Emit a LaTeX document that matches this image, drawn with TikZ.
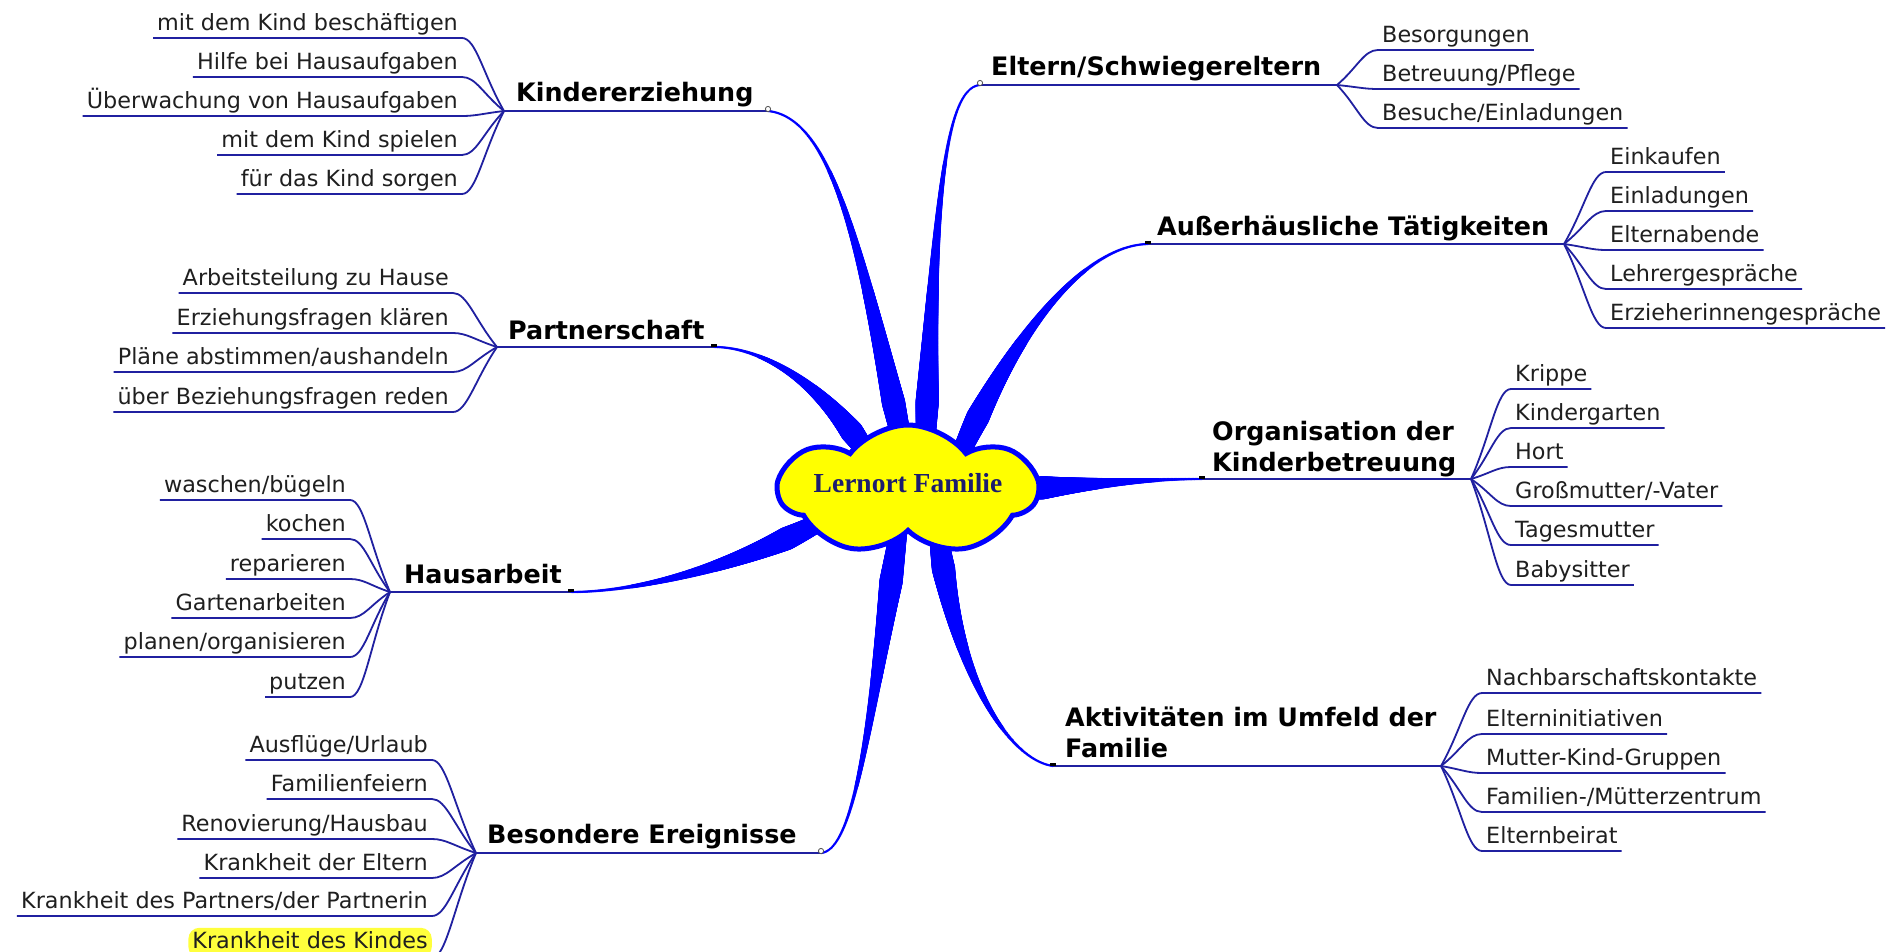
\documentclass[tikz,border=0pt]{standalone}
\usepackage{fontspec}
\setmainfont{DejaVu Sans}
\newfontfamily\serifb{Liberation Serif}
\usetikzlibrary{calc,decorations.markings,shapes.symbols}
\definecolor{lineblue}{RGB}{32,32,160}
\definecolor{spikeblue}{RGB}{0,0,255}
\definecolor{cloudyellow}{RGB}{255,255,0}
\definecolor{centertext}{RGB}{28,28,110}
\definecolor{hilite}{RGB}{255,255,60}
\newcommand\LX{0}
\newcommand\RX{0}
\newcommand\lchild[4]{%
  \node[childtext, anchor=south east] (#1) at (\LX,#2) {#3};
  \draw[thinline] (#1.south west) -- (#1.south east) .. controls ($(#1.south east)+(14,0)$) and ($(#1.south east)!0.5!(#4)$) .. (#4);
}
\newcommand\rchild[4]{%
  \node[childtext, anchor=south west] (#1) at (\RX,#2) {#3};
  \draw[thinline] (#4) .. controls ($(#1.south west)!0.5!(#4)$) and ($(#1.south west)+(-14,0)$) .. (#1.south west) -- (#1.south east);
}
\begin{document}
\begin{tikzpicture}[x=1pt,y=-1pt,
  childtext/.style={font=\fontsize{22.3}{26}\selectfont, inner xsep=4pt, inner ysep=1.5pt, text height=16.5pt, text depth=5.5pt, text=black!88},
  headtext/.style={font=\fontsize{25.4}{31}\selectfont\bfseries, inner sep=0pt, align=left, text=black},
  thinline/.style={draw=lineblue, line width=1.8pt},
  spike/.style={postaction={decorate}, decoration={markings,
    mark=between positions 0 and 1 step 0.7pt with {%
      \pgfmathsetmacro\tp{\pgfkeysvalueof{/pgf/decoration/mark info/distance from start}/\pgfdecoratedpathlength}%
      \pgfmathsetmacro\rr{\tp<0.85 ? 1.2+14.5*\tp*\tp : 11.68-20*(\tp-0.85)}%
      \fill[spikeblue] (0pt,0pt) circle (\rr pt);}}},
  ringmark/.style={draw=black!70, fill=white, line width=0.8pt},
]
\useasboundingbox (0,0) rectangle (1903,952);
\clip (0,0) rectangle (1903,952);
\fill[white] (0,0) rectangle (1903,952);

% ---------- coordinates of heads and hubs
\coordinate (hK) at (504,111);  \coordinate (eK) at (768,111);
\coordinate (hP) at (497,347);  \coordinate (eP) at (714,347);
\coordinate (hH) at (390,592);  \coordinate (eH) at (571,592);
\coordinate (hB) at (476,853);  \coordinate (eB) at (821,853);
\coordinate (hE) at (1337,85);  \coordinate (eE) at (980,85);
\coordinate (hA) at (1564,244); \coordinate (eA) at (1148,244);
\coordinate (hO) at (1471,479); \coordinate (eO) at (1202,479);
\coordinate (hU) at (1441,766); \coordinate (eU) at (1053,766);

\coordinate (bK) at (905,455);
\coordinate (bP) at (868,455);
\coordinate (bH) at (820,522);
\coordinate (bB) at (898,535);
\coordinate (bE) at (925,455);
\coordinate (bA) at (960,455);
\coordinate (bO) at (1015,490);
\coordinate (bU) at (938,530);

% ---------- tapered main connectors
\path[spike] (eK) .. controls (835,118) and (862,260) .. (bK);
\path[spike] (eP) .. controls (760,347) and (820,380) .. (bP);
\path[spike] (eH) .. controls (640,592) and (740,565) .. (bH);
\path[spike] (eB) .. controls (855,850) and (870,720) .. (bB);
\path[spike] (eE) .. controls (945,88) and (935,200) .. (bE);
\path[spike] (eA) .. controls (1090,245) and (1020,320) .. (bA);
\path[spike] (eO) .. controls (1150,479) and (1090,484) .. (bO);
\path[spike] (eU) .. controls (1010,760) and (955,680) .. (bU);

% ---------- central cloud
\node[cloud, cloud puffs=7, cloud puff arc=105, cloud ignores aspect,
      minimum width=258pt, minimum height=130pt, draw=spikeblue,
      line width=5pt, fill=cloudyellow, inner sep=0pt] (cloud) at (908,490) {};
\node[font=\serifb\fontsize{27.5}{33}\selectfont\bfseries, text=centertext, anchor=base] (center) at (908,492) {Lernort Familie};

% ---------- heading lines and labels
\draw[thinline] (hK) -- (eK);
\draw[thinline] (hP) -- (eP);
\draw[thinline] (hH) -- (eH);
\draw[thinline] (hB) -- (eB);
\draw[thinline] (eE) -- (hE);
\draw[thinline] (eA) -- (hA);
\draw[thinline] (eO) -- (hO);
\draw[thinline] (eU) -- (hU);

\node[headtext, anchor=base west] (tK) at (516,102) {Kindererziehung};
\node[headtext, anchor=base west] (tP) at (508,339) {Partnerschaft};
\node[headtext, anchor=base west] (tH) at (404,583) {Hausarbeit};
\node[headtext, anchor=base west] (tB) at (487,843) {Besondere Ereignisse};
\node[headtext, anchor=base west] (tE) at (991,76) {Eltern/Schwiegereltern};
\node[headtext, anchor=base west] (tA) at (1157,235) {Außerhäusliche Tätigkeiten};
\node[headtext, anchor=south west] (tO) at (1212,477) {Organisation der\\Kinderbetreuung};
\node[headtext, anchor=south west] (tU) at (1065,758) {Aktivitäten im Umfeld der\\Familie};

% small end markers
\draw[ringmark] ($(eK)+(0,-2)$) circle (2.6pt);
\draw[ringmark] ($(eE)+(0,-2)$) circle (2.6pt);
\draw[ringmark] ($(eB)+(0,-2)$) circle (2.6pt);
\fill[black] ($(eP)+(-3,-3)$) rectangle ($(eP)+(3,0)$);
\fill[black] ($(eH)+(-3,-3)$) rectangle ($(eH)+(3,0)$);
\fill[black] ($(eA)+(-3,-3)$) rectangle ($(eA)+(3,0)$);
\fill[black] ($(eO)+(-3,-3)$) rectangle ($(eO)+(3,0)$);
\fill[black] ($(eU)+(-3,-3)$) rectangle ($(eU)+(3,0)$);

% ---------- Kindererziehung
\renewcommand\LX{462}
\lchild{k1}{38}{mit dem Kind beschäftigen}{hK}
\lchild{k2}{77}{Hilfe bei Hausaufgaben}{hK}
\lchild{k3}{116}{Überwachung von Hausaufgaben}{hK}
\lchild{k4}{155}{mit dem Kind spielen}{hK}
\lchild{k5}{194}{für das Kind sorgen}{hK}

% ---------- Partnerschaft
\renewcommand\LX{453}
\lchild{p1}{293}{Arbeitsteilung zu Hause}{hP}
\lchild{p2}{333}{Erziehungsfragen klären}{hP}
\lchild{p3}{372}{Pläne abstimmen/aushandeln}{hP}
\lchild{p4}{412}{über Beziehungsfragen reden}{hP}

% ---------- Hausarbeit
\renewcommand\LX{350}
\lchild{h1}{500}{waschen/bügeln}{hH}
\lchild{h2}{539}{kochen}{hH}
\lchild{h3}{579}{reparieren}{hH}
\lchild{h4}{618}{Gartenarbeiten}{hH}
\lchild{h5}{657}{planen/organisieren}{hH}
\lchild{h6}{697}{putzen}{hH}

% ---------- Besondere Ereignisse
\renewcommand\LX{432}
\lchild{b1}{760}{Ausflüge/Urlaub}{hB}
\lchild{b2}{799}{Familienfeiern}{hB}
\lchild{b3}{839}{Renovierung/Hausbau}{hB}
\lchild{b4}{878}{Krankheit der Eltern}{hB}
\lchild{b5}{916}{Krankheit des Partners/der Partnerin}{hB}
\node[childtext, anchor=south east, fill=hilite, rounded corners=11pt, inner ysep=4pt] (b6) at (432,958) {Krankheit des Kindes};
\draw[thinline] (b6.south west) -- (b6.south east) .. controls ($(b6.south east)+(14,0)$) and ($(b6.south east)!0.5!(hB)$) .. (hB);

% ---------- Eltern/Schwiegereltern
\renewcommand\RX{1378}
\rchild{e1}{50}{Besorgungen}{hE}
\rchild{e2}{89}{Betreuung/Pflege}{hE}
\rchild{e3}{128}{Besuche/Einladungen}{hE}

% ---------- Außerhäusliche Tätigkeiten
\renewcommand\RX{1606}
\rchild{a1}{172}{Einkaufen}{hA}
\rchild{a2}{211}{Einladungen}{hA}
\rchild{a3}{250}{Elternabende}{hA}
\rchild{a4}{289}{Lehrergespräche}{hA}
\rchild{a5}{328}{Erzieherinnengespräche}{hA}

% ---------- Organisation der Kinderbetreuung
\renewcommand\RX{1511}
\rchild{o1}{389}{Krippe}{hO}
\rchild{o2}{428}{Kindergarten}{hO}
\rchild{o3}{467}{Hort}{hO}
\rchild{o4}{506}{Großmutter/-Vater}{hO}
\rchild{o5}{545}{Tagesmutter}{hO}
\rchild{o6}{585}{Babysitter}{hO}

% ---------- Aktivitäten im Umfeld der Familie
\renewcommand\RX{1482}
\rchild{u1}{693}{Nachbarschaftskontakte}{hU}
\rchild{u2}{734}{Elterninitiativen}{hU}
\rchild{u3}{773}{Mutter-Kind-Gruppen}{hU}
\rchild{u4}{812}{Familien-/Mütterzentrum}{hU}
\rchild{u5}{851}{Elternbeirat}{hU}
\end{tikzpicture}
\end{document}
